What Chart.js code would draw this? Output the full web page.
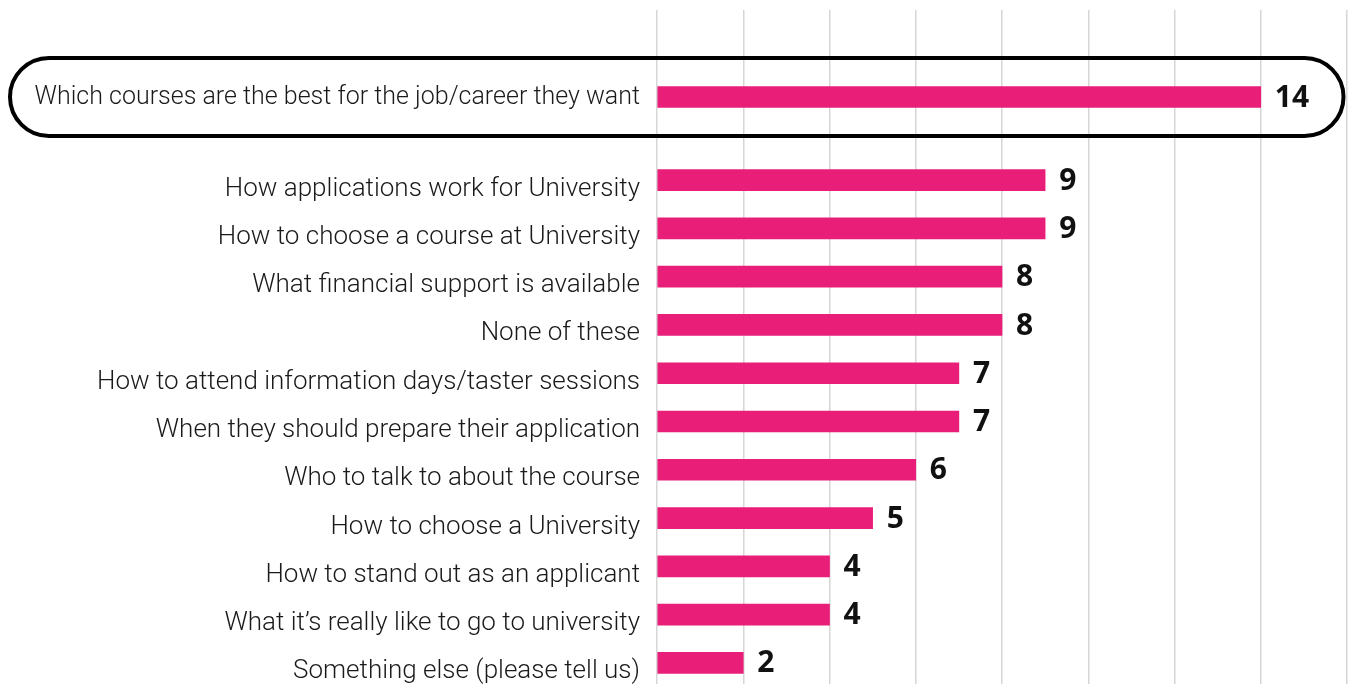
<!DOCTYPE html>
<html>
<head>
<meta charset="utf-8">
<script src="https://cdn.jsdelivr.net/npm/chart.js@4/dist/chart.umd.min.js"></script>
<style>
    html, body { margin: 0; padding: 0; background: #ffffff; overflow: hidden; }
    .wrap { position: absolute; left: 0; width: 1350px; }
    #topWrap { top: 0; height: 140px; }
    #mainWrap { top: 140px; height: 547px; }
</style>
</head>
<body>
<div class="wrap" id="topWrap"><canvas id="topChart"></canvas></div>
<div class="wrap" id="mainWrap"><canvas id="mainChart"></canvas></div>
<script>
// Highlighted top answer
const topLabels = ['Which courses are the best for the job/career they want'];
const topValues = [14];

// Remaining answers
const labels = [
    'How applications work for University',
    'How to choose a course at University',
    'What financial support is available',
    'None of these',
    'How to attend information days/taster sessions',
    'When they should prepare their application',
    'Who to talk to about the course',
    'How to choose a University',
    'How to stand out as an applicant',
    'What it\u2019s really like to go to university',
    'Something else (please tell us)'
];
const values = [9, 9, 8, 8, 7, 7, 6, 5, 4, 4, 2];

const axisMin = 0;
const axisMax = 16;
const axisStep = 2;

const BAR_COLOR = '#E91E79';
const GRID_COLOR = '#D6D6D6';
const VALUE_FONT = '700 30px "Open Sans", sans-serif';

// Bold value printed just past the end of each bar
const barValuePlugin = {
    id: 'barValue',
    afterDatasetsDraw(chart) {
        const { ctx } = chart;
        const meta = chart.getDatasetMeta(0);
        const data = chart.data.datasets[0].data;
        ctx.save();
        ctx.font = VALUE_FONT;
        ctx.fillStyle = '#111111';
        ctx.textAlign = 'left';
        ctx.textBaseline = 'middle';
        meta.data.forEach((bar, i) => {
            ctx.fillText(String(data[i]), bar.x + 14, bar.y + 1);
        });
        ctx.restore();
    }
};

// Rounded outline around the highlighted row
const pillOutlinePlugin = {
    id: 'pillOutline',
    afterDraw(chart) {
        const { ctx } = chart;
        const bar = chart.getDatasetMeta(0).data[0];
        const h = 78;
        const top = bar.y - h / 2;
        const left = 10;
        const right = chart.width - 6.5;
        const r = h / 2;
        ctx.save();
        ctx.lineWidth = 4;
        ctx.strokeStyle = '#000000';
        ctx.beginPath();
        ctx.roundRect(left, top, right - left, h, r);
        ctx.stroke();
        ctx.restore();
    }
};

function buildOptions(cfg) {
    return {
        indexAxis: 'y',
        responsive: true,
        maintainAspectRatio: false,
        animation: false,
        layout: { padding: { top: cfg.padTop, right: 3, left: 0, bottom: 0 } },
        plugins: {
            legend: { display: false },
            tooltip: { enabled: false }
        },
        scales: {
            x: {
                position: 'top',
                min: axisMin,
                max: axisMax,
                border: { display: false },
                grid: {
                    color: GRID_COLOR,
                    lineWidth: 1.5,
                    drawTicks: true,
                    tickLength: cfg.tickLength
                },
                ticks: { display: false, stepSize: axisStep }
            },
            y: {
                border: { display: false },
                grid: { display: false, drawTicks: false },
                ticks: {
                    color: '#1a1a1a',
                    padding: 17,
                    labelOffset: cfg.labelOffset,
                    font: { family: 'Roboto', size: cfg.labelSize, weight: '300' }
                },
                afterFit(scale) {
                    // fixed label column; labels sit inside their bands, no overflow room needed
                    scale.width = 657;
                    scale.paddingTop = 0;
                    scale.paddingBottom = 0;
                }
            }
        }
    };
}

function buildDataset(data) {
    return {
        data: data,
        backgroundColor: BAR_COLOR,
        barThickness: 21,
        borderWidth: 0
    };
}

new Chart(document.getElementById('topChart'), {
    type: 'bar',
    data: { labels: topLabels, datasets: [buildDataset(topValues)] },
    options: buildOptions({ padTop: 10, tickLength: 44, labelSize: 25, labelOffset: 1 }),
    plugins: [barValuePlugin, pillOutlinePlugin]
});

new Chart(document.getElementById('mainChart'), {
    type: 'bar',
    data: { labels: labels, datasets: [buildDataset(values)] },
    options: buildOptions({ padTop: 0, tickLength: 16, labelSize: 26, labelOffset: 9 }),
    plugins: [barValuePlugin]
});
</script>
</body>
</html>
